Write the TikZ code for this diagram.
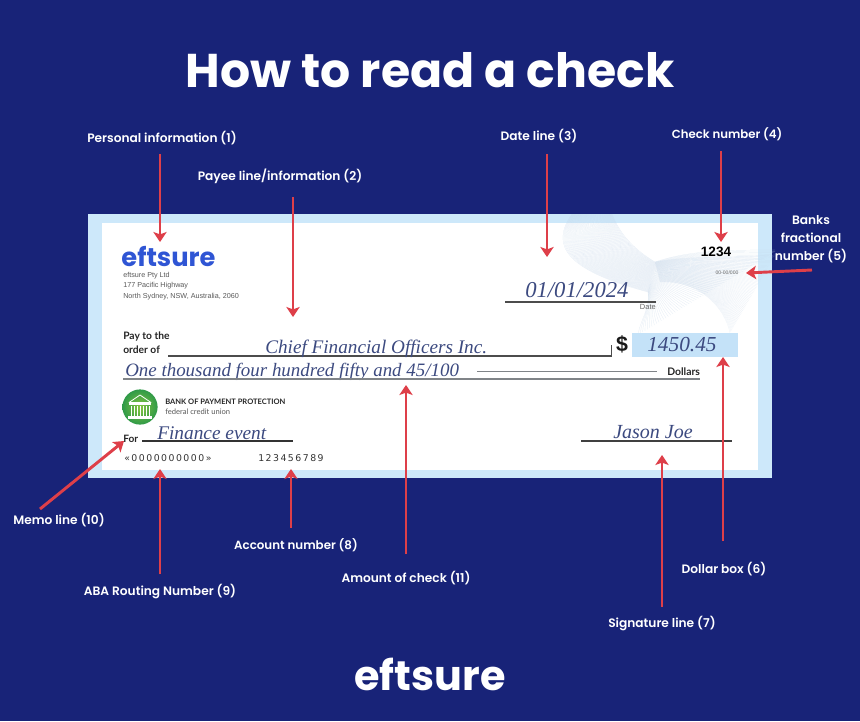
\documentclass[tikz,border=0pt]{standalone}
\usepackage{fontspec}
\setmainfont{Poppins}
\newfontfamily\psemi{Poppins SemiBold}
\newfontfamily\scriptf{Liberation Serif}
\newfontfamily\plain{Liberation Sans}
\newfontfamily\latof{Lato}
\newfontfamily\monof[LetterSpace=16]{DejaVu Sans}
\usetikzlibrary{arrows.meta}
\definecolor{bgnavy}{HTML}{182378}
\definecolor{paleblue}{HTML}{CDE8FA}
\definecolor{boxblue}{HTML}{C4E2F8}
\definecolor{arrred}{HTML}{DE3F49}
\definecolor{logoblue}{HTML}{2F55D4}
\definecolor{ink}{HTML}{3C4A80}
\definecolor{wave}{HTML}{C4D6EA}
\definecolor{greyline}{HTML}{808488}
\definecolor{gin}{HTML}{86C440}
\definecolor{gout}{HTML}{2F9A48}
\newcommand{\fs}[1]{\fontsize{#1}{#1}\selectfont}
\tikzset{
  x=0.75pt,y=-0.75pt,
  lab/.style={text=white,font=\psemi\fs{9.15},inner sep=0pt,align=center},
  labone/.style={lab,text height=7pt,text depth=2pt},
  arr/.style={draw=arrred,line width=2.2pt,-{Stealth[length=7.5pt,width=10pt,inset=1.8pt]}},
  sig/.style={text=ink,font=\scriptf\itshape,inner sep=0pt,anchor=base west},
  ruleline/.style={draw=#1,line width=0.9pt},
  small/.style={inner sep=0pt,anchor=west},
}
\begin{document}
\begin{tikzpicture}
\useasboundingbox (0,0) rectangle (860,721);
\fill[bgnavy] (0,0) rectangle (860,721);
% check body
\fill[paleblue] (88,214) rectangle (772,478);
\fill[white] (102,223) rectangle (758,470);
% guilloche
\begin{scope}
\clip (88,214) rectangle (775,478);
\foreach \i in {0,1,...,60}{
  \pgfmathsetmacro{\t}{\i/60}
  \draw[wave,line width=0.15pt,opacity=.55]
    ({572+40*\t},{214}) .. controls ({550+70*\t},{245-10*\t}) and ({565+70*\t},{270-20*\t}) .. ({648+7*\t},{292-30*\t})
    .. controls ({650+40*\t},{310-60*\t}) and ({640+90*\t},{320-70*\t}) .. ({638+140*\t},{335-85*\t});
  \draw[wave,line width=0.15pt,opacity=.4]
    ({655+5*\t},{262+20*\t}) .. controls ({690+10*\t},{255+25*\t}) and ({735-10*\t},{258+50*\t}) .. ({775-45*\t},{255+78*\t});
}
\end{scope}
% title
\node[text=white,font=\fs{35.5}\bfseries,inner sep=0pt] (title) at (430,70) {How to read a check};
% top logo and address
\node[text=logoblue,font=\fs{19.3}\bfseries,inner sep=0pt,text height=13pt,text depth=0pt] (logo) at (168.5,258) {eftsure};
\node[small,text=black!65,font=\plain\fs{5.4}] (addr1) at (123,276) {eftsure Pty Ltd};
\node[small,text=black!65,font=\plain\fs{5.4}] (addr2) at (123,286) {177 Pacific Highway};
\node[small,text=black!65,font=\plain\fs{5.4}] (addr3) at (123,297) {North Sydney, NSW, Australia, 2060};
% payee
\node[small,text=black!85,font=\latof\bfseries\fs{7.7}] (pay1) at (123,337) {Pay to the};
\node[small,text=black!85,font=\latof\bfseries\fs{7.7}] (pay2) at (123,350) {order of};
\draw[ruleline=black!70] (168,356) -- (611.5,356) -- (611.5,345);
\node[sig,font=\scriptf\itshape\fs{14.4}] (payee) at (265,353) {Chief Financial Officers Inc.};
\node[sig,font=\scriptf\itshape\fs{14.2}] (amount) at (125,376) {One thousand four hundred fifty and 45/100};
\draw[ruleline=greyline] (123,379) -- (700,379);
\draw[draw=greyline,line width=0.7pt] (477,371) -- (657,371);
\node[small,text=black!85,font=\latof\bfseries\fs{7.8}] (dollars) at (667,372) {Dollars};
\node[text=black!90,font=\plain\bfseries\fs{16},inner sep=0pt] (dsign) at (622,344) {\$};
\node[fill=boxblue,minimum width=79.5pt,minimum height=18pt,inner sep=0pt] (dollarbox) at (685,345) {};
\node[sig,font=\scriptf\itshape\fs{16}] (amt) at (647,351) {1450.45};
% date
\node[sig,font=\scriptf\itshape\fs{17}] (date) at (525,297) {01/01/2024};
\draw[ruleline=black!70] (505,302) -- (656,302);
\node[text=black!60,font=\plain\fs{5.6},inner sep=0pt,anchor=east] (datel) at (656,307) {Date};
\node[text=black,font=\plain\bfseries\fs{10.2},inner sep=0pt] (chk) at (716,252) {1234};
\node[text=black!60,font=\plain\fs{3.8},inner sep=0pt] (frac) at (727,273) {00-00/000};
% bank
\shade[inner color=gin,outer color=gout] (140,407) circle (13.2pt);
\node[inner sep=0pt,minimum size=26.4pt,circle] (banklogo) at (140,407) {};
\draw[white,line width=0.6pt,line join=round] (129,402.5) -- (140,395) -- (151,402.5) -- cycle;
\fill[white] (129,403) rectangle (151,404.5);
\foreach \cx in {130.5,133.5,136.5,139.5,142.5,145.5,148.5}{\fill[white] (\cx,405.5) rectangle ++(1.6,10);}
\fill[white] (128,416) rectangle (152,418.5);
\node[small,text=black!85,font=\latof\bfseries\fs{5.65}] (bank1) at (165,402) {BANK OF PAYMENT PROTECTION};
\node[small,text=black!65,font=\latof\fs{5.7}] (bank2) at (165,412) {federal credit union};
% memo
\node[small,text=black!85,font=\latof\bfseries\fs{7.6}] (forl) at (123,439) {For};
\draw[ruleline=black!80] (142,441) -- (293,441);
\node[sig,font=\scriptf\itshape\fs{14.5}] (memo) at (157,439) {Finance event};
\node[small,text=black!80,font=\monof\fs{7}] (route) at (124,458) {«0000000000»};
\node[small,text=black!80,font=\monof\fs{7}] (acct) at (258,458) {123456789};
% signature
\draw[ruleline=black!75] (581,441) -- (732,441);
\node[sig,font=\scriptf\itshape\fs{15}] (signame) at (613,438) {Jason Joe};
% labels
\node[labone] (l1) at (162,139) {Personal information (1)};
\node[labone] (l2) at (280,177) {Payee line/information (2)};
\node[labone] (l3) at (539,137) {Date line (3)};
\node[labone,font=\psemi\fs{8.8}] (l4) at (727,135) {Check number (4)};
\node[lab] (l5) at (811,239) {Banks\\[4.5pt]fractional\\[4.5pt]number (5)};
\node[labone] (l6) at (724,570) {Dollar box (6)};
\node[labone] (l7) at (662,624) {Signature line (7)};
\node[labone,font=\psemi\fs{8.9}] (l8) at (296,546) {Account number (8)};
\node[labone] (l9) at (160,592) {ABA Routing Number (9)};
\node[labone] (l10) at (59,521) {Memo line (10)};
\node[labone] (l11) at (406,579) {Amount of check (11)};
% connector ends
\coordinate (t1) at (160,242);
\coordinate (t2) at (293,317);
\coordinate (t3) at (547,257);
\coordinate (t4) at (721,242);
\coordinate (t5) at (746,273);
\coordinate (t6) at (723,357);
\coordinate (t7) at (662,455);
\coordinate (t8) at (291,469);
\coordinate (t9) at (160,469);
\coordinate (t10) at (124,441);
\coordinate (t11) at (406,385);
\coordinate (s5) at (812,270);
\coordinate (s10) at (40,509);
\draw[arr,shorten <=6.75pt] (t1 |- l1.south) -- (t1);
\draw[arr,shorten <=10.5pt] (t2 |- l2.south) -- (t2);
\draw[arr,shorten <=8pt] (t3 |- l3.south) -- (t3);
\draw[arr,shorten <=7.5pt] (t4 |- l4.south) -- (t4);
\draw[arr] (s5) -- (t5);
\draw[arr,shorten <=17pt] (t6 |- l6.north) -- (t6);
\draw[arr,shorten <=8.25pt] (t7 |- l7.north) -- (t7);
\draw[arr,shorten <=9pt] (t8 |- l8.north) -- (t8);
\draw[arr,shorten <=8.5pt] (t9 |- l9.north) -- (t9);
\draw[arr] (s10) -- (t10);
\draw[arr,shorten <=14pt] (t11 |- l11.north) -- (t11);
% bottom logo
\node[text=white,font=\fs{31}\bfseries,inner sep=0pt] (botlogo) at (430,674) {eftsure};
\end{tikzpicture}
\end{document}
